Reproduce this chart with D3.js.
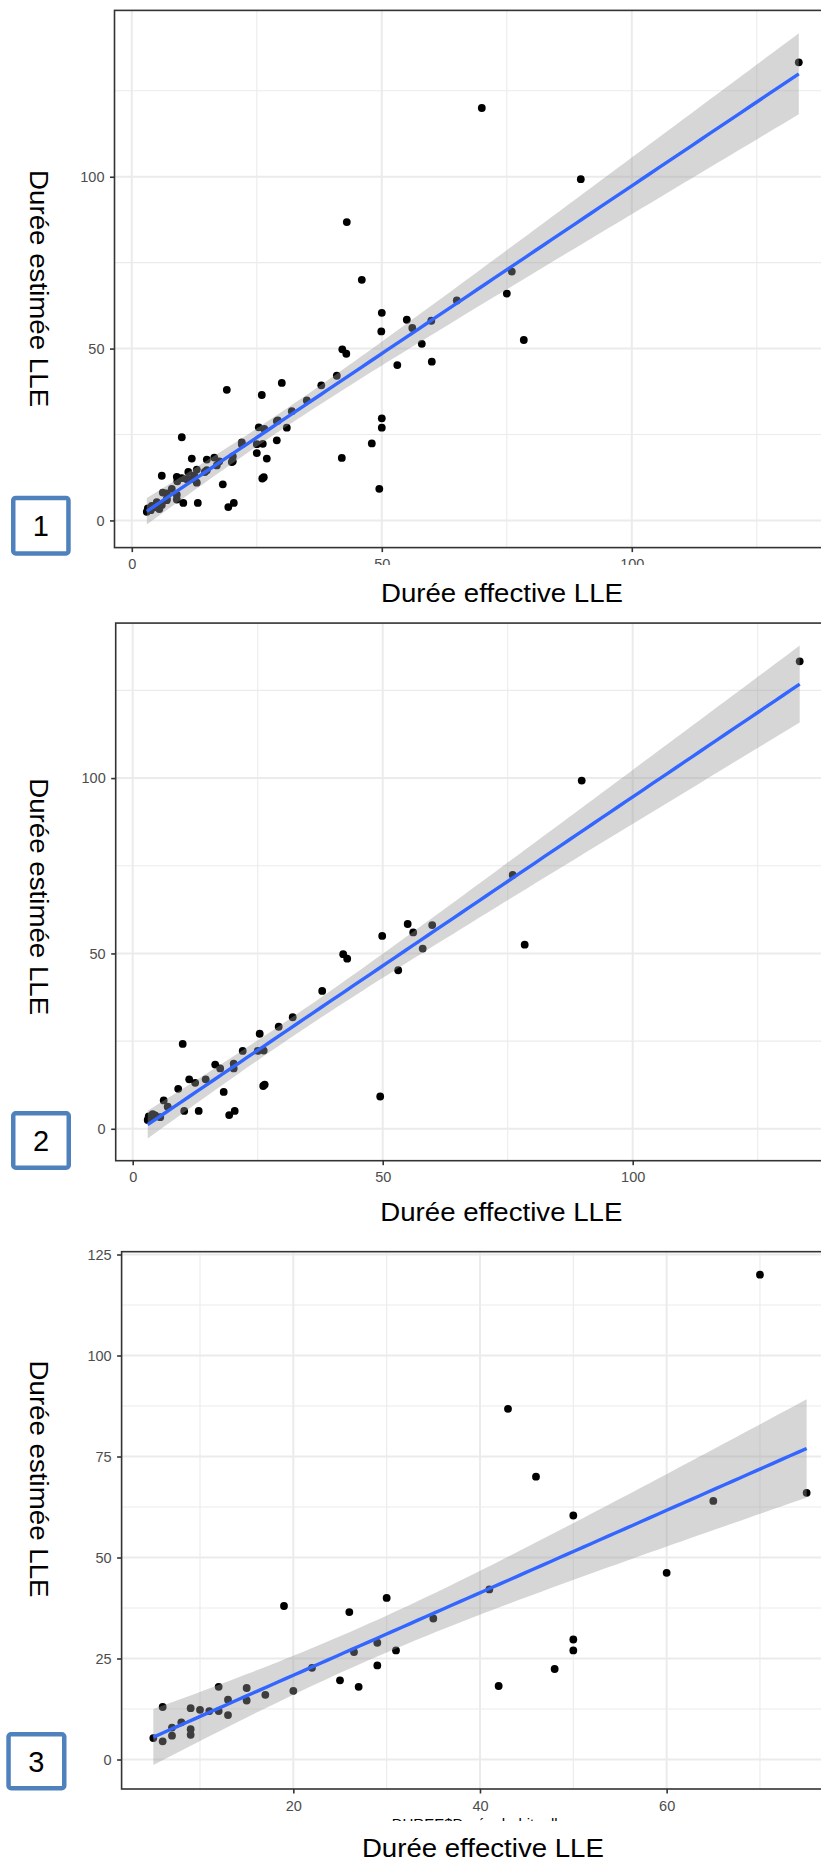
<!DOCTYPE html>
<html><head><meta charset="utf-8">
<script src="https://cdn.jsdelivr.net/npm/d3@7"></script>
<style>body{margin:0;background:#fff}svg{display:block}</style>
</head><body>
<svg id="c" width="821" height="1863"></svg>
<script>
// ---------- data ----------
// group A : points shown in panel 2
const groupAx = [3, 3.2, 3.8, 4, 4.5, 5.5, 6.2, 7, 9.1, 10, 10.3, 11.3, 12.5, 13.2, 14.6, 16.5, 17.5, 18.2, 19.3, 20.4, 20.2, 20.2, 22, 25.4, 25, 26.2, 26.1, 26.4, 29.2, 32, 37.9, 42.1, 42.9, 49.5, 49.9, 53.1, 55, 56.1, 58, 59.9, 76, 78.4, 89.8, 133.4];
const groupAy = [2.5, 3.5, 3.0, 4.2, 3.8, 3.3, 8.1, 6.3, 11.4, 24.2, 5.1, 14.1, 13.1, 5.1, 14.1, 18.3, 17.2, 10.5, 3.9, 5.1, 18.6, 17.2, 22.2, 27.1, 22.2, 22.3, 12.2, 12.6, 29.1, 31.8, 39.3, 49.8, 48.5, 9.2, 55, 45.2, 58.4, 56, 51.4, 58.1, 72.4, 52.5, 99.3, 133.3];
// group B : points shown in panel 3
const groupBx = [5, 6, 6, 7, 7, 8, 9, 9, 9, 10, 11, 12, 12, 13, 13, 15, 15, 17, 19, 20, 22, 25, 26, 26.5, 27, 29, 29, 30, 31, 35, 41, 42, 43, 46, 48, 50, 50, 50, 60, 65, 70, 75];
const groupBy = [5.3, 13, 4.5, 7.9, 5.9, 9.2, 12.7, 7.5, 6.1, 12.3, 12, 18, 12, 14.8, 11, 17.7, 14.6, 16, 38, 17, 22.7, 19.6, 36.5, 26.6, 18, 28.9, 23.3, 40, 27, 34.9, 42.1, 18.2, 86.8, 70, 22.4, 60.4, 29.7, 27, 46.2, 64, 120, 66];

const ticksMajor12 = [0, 50, 100];
const ticksMinor12 = [25, 75, 125];
const ticksMajor3x = [20, 40, 60];
const ticksMinor3x = [10, 30, 50, 70];
const ticksMajor3y = [0, 25, 50, 75, 100, 125];
const ticksMinor3y = [12.5, 37.5, 62.5, 87.5, 112.5];

const xTitle = "Durée effective LLE";
const yTitle = "Durée estimée LLE";
const hiddenTitle = "DUREE$Durée_habituelle";
const panelLabels = ["1", "2", "3"];

// ---------- helpers ----------
const svg = d3.select("#c");
const FONT = "'Liberation Sans', Arial, Helvetica, sans-serif";

function tQuant(df) {
  const z = 1.959964;
  return z + (z ** 3 + z) / (4 * df) + (5 * z ** 5 + 16 * z ** 3 + 3 * z) / (96 * df * df)
    + (3 * z ** 7 + 19 * z ** 5 + 17 * z ** 3 - 15 * z) / (384 * df ** 3);
}

function lmFit(xs, ys) {
  const n = xs.length;
  const mx = d3.mean(xs), my = d3.mean(ys);
  let sxx = 0, sxy = 0;
  for (let i = 0; i < n; i++) { sxx += (xs[i] - mx) ** 2; sxy += (xs[i] - mx) * (ys[i] - my); }
  const b = sxy / sxx, a = my - b * mx;
  let sse = 0;
  for (let i = 0; i < n; i++) sse += (ys[i] - a - b * xs[i]) ** 2;
  const s = Math.sqrt(sse / (n - 2));
  const t = tQuant(n - 2);
  const [x0, x1] = d3.extent(xs);
  const grid = d3.range(80).map(i => x0 + (x1 - x0) * i / 79);
  return grid.map(x => {
    const f = a + b * x;
    const se = s * Math.sqrt(1 / n + (x - mx) ** 2 / sxx);
    return { x, f, lo: f - t * se, hi: f + t * se };
  });
}

function drawPanel(cfg, idx) {
  const g = svg.append("g");
  const x = d3.scaleLinear().domain(cfg.xDomain).range(cfg.xRange);
  const y = d3.scaleLinear().domain(cfg.yDomain).range(cfg.yRange);
  const L = cfg.xRange[0], R = cfg.xRange[1], T = cfg.yRange[1], B = cfg.yRange[0];
  const clipId = "clip" + idx;
  g.append("clipPath").attr("id", clipId).append("rect")
    .attr("x", L).attr("y", T).attr("width", R - L).attr("height", B - T);
  const body = g.append("g").attr("clip-path", `url(#${clipId})`);
  // grid
  body.selectAll(".gxm").data(cfg.xMinor).join("line")
    .attr("x1", d => x(d)).attr("x2", d => x(d)).attr("y1", T).attr("y2", B)
    .attr("stroke", "#EBEBEB").attr("stroke-width", 1.1);
  body.selectAll(".gym").data(cfg.yMinor).join("line")
    .attr("y1", d => y(d)).attr("y2", d => y(d)).attr("x1", L).attr("x2", R)
    .attr("stroke", "#EBEBEB").attr("stroke-width", 1.1);
  body.selectAll(".gxM").data(cfg.xMajor).join("line")
    .attr("x1", d => x(d)).attr("x2", d => x(d)).attr("y1", T).attr("y2", B)
    .attr("stroke", "#EBEBEB").attr("stroke-width", 2);
  body.selectAll(".gyM").data(cfg.yMajor).join("line")
    .attr("y1", d => y(d)).attr("y2", d => y(d)).attr("x1", L).attr("x2", R)
    .attr("stroke", "#EBEBEB").attr("stroke-width", 2);
  // points
  body.selectAll("circle").data(d3.zip(cfg.xs, cfg.ys)).join("circle")
    .attr("cx", d => x(d[0])).attr("cy", d => y(d[1])).attr("r", 3.9).attr("fill", "#000");
  // smooth
  const fit = lmFit(cfg.xs, cfg.ys);
  body.append("path").datum(fit)
    .attr("d", d3.area().x(d => x(d.x)).y0(d => y(d.lo)).y1(d => y(d.hi)))
    .attr("fill", "#999999").attr("fill-opacity", 0.4);
  body.append("path").datum(fit)
    .attr("d", d3.line().x(d => x(d.x)).y(d => y(d.f)))
    .attr("fill", "none").attr("stroke", "#3366FF").attr("stroke-width", 3.4);
  // border
  g.append("rect").attr("x", L).attr("y", T).attr("width", R - L).attr("height", B - T)
    .attr("fill", "none").attr("stroke", "#333333").attr("stroke-width", 1.6);
  // axes
  const ax = g.append("g").attr("transform", `translate(0,${B})`)
    .call(d3.axisBottom(x).tickValues(cfg.xMajor).tickSize(4.5).tickSizeOuter(0).tickPadding(7).tickFormat(d3.format("d")));
  const ay = g.append("g").attr("transform", `translate(${L},0)`)
    .call(d3.axisLeft(y).tickValues(cfg.yMajor).tickSize(4.5).tickSizeOuter(0).tickPadding(5.5).tickFormat(d3.format("d")));
  [ax, ay].forEach(a => {
    a.select(".domain").remove();
    a.selectAll(".tick line").attr("stroke", "#333333").attr("stroke-width", 1.6);
    a.selectAll(".tick text").attr("fill", "#4D4D4D").style("font-family", FONT).style("font-size", "14.5px");
  });
  // hidden original title (panel 3)
  if (cfg.hidden) {
    g.append("text").attr("x", cfg.hidden.x).attr("y", cfg.hidden.y)
      .style("font-family", FONT).style("font-size", "15px").attr("fill", "#000").text(hiddenTitle);
  }
  // cover rect
  if (cfg.cover) {
    g.append("rect").attr("x", cfg.cover[0]).attr("y", cfg.cover[1])
      .attr("width", cfg.cover[2]).attr("height", cfg.cover[3]).attr("fill", "#fff");
  }
  // titles
  g.append("text").attr("x", cfg.xTitle[0]).attr("y", cfg.xTitle[1])
    .attr("text-anchor", "middle").style("font-family", FONT).style("font-size", "26.5px")
    .attr("textLength", 242).attr("lengthAdjust", "spacingAndGlyphs").attr("fill", "#000").text(xTitle);
  g.append("text").attr("transform", `translate(${cfg.yTitle[0]},${cfg.yTitle[1]}) rotate(90)`)
    .attr("text-anchor", "middle").style("font-family", FONT).style("font-size", "26.5px")
    .attr("textLength", 237).attr("lengthAdjust", "spacingAndGlyphs").attr("fill", "#000").text(yTitle);
  // label box
  const bx = cfg.box, sw = 4.5;
  g.append("rect").attr("x", bx[0] + sw / 2).attr("y", bx[1] + sw / 2)
    .attr("width", bx[2] - bx[0] - sw).attr("height", bx[3] - bx[1] - sw).attr("rx", 2.5)
    .attr("fill", "#fff").attr("stroke", "#4F81BD").attr("stroke-width", sw);
  g.append("text").attr("x", (bx[0] + bx[2]) / 2).attr("y", (bx[1] + bx[3]) / 2 + 10.4)
    .attr("text-anchor", "middle").style("font-family", FONT).style("font-size", "29px")
    .attr("fill", "#000").text(panelLabels[idx]);
}

const allX = groupAx.concat(groupBx);
const allY = groupAy.concat(groupBy);

const panels = [
  { xs: allX, ys: allY,
    xDomain: [-3.46, 139.9], xRange: [114.5, 114.5 + 143.36 * 5.0],
    yDomain: [-7.9, 148.4], yRange: [547.6, 547.6 - 156.3 * 3.437],
    xMajor: ticksMajor12, xMinor: ticksMinor12, yMajor: ticksMajor12, yMinor: ticksMinor12,
    cover: [250, 565, 571, 48], xTitle: [502, 601.7], yTitle: [29.5, 288.6],
    box: [11, 495.7, 70.7, 555.7] },
  { xs: groupAx, ys: groupAy,
    xDomain: [-3.4, 139.9], xRange: [115.7, 115.7 + 143.3 * 5.0],
    yDomain: [-9.1, 144.2], yRange: [1160.7, 1160.7 - 153.3 * 3.507],
    xMajor: ticksMajor12, xMinor: ticksMinor12, yMajor: ticksMajor12, yMinor: ticksMinor12,
    cover: null, xTitle: [501.3, 1221], yTitle: [29.5, 896.7],
    box: [11, 1111, 71, 1170] },
  { xs: groupBx, ys: groupBy,
    xDomain: [1.6, 78.6], xRange: [121.6, 121.6 + 77 * 9.333],
    yDomain: [-7.3, 125.7], yRange: [1789, 1789 - 133 * 4.04],
    xMajor: ticksMajor3x, xMinor: ticksMinor3x, yMajor: ticksMajor3y, yMinor: ticksMinor3y,
    hidden: { x: 391.7, y: 1829 }, cover: [300, 1821, 521, 42], xTitle: [482.9, 1857], yTitle: [29.5, 1479],
    box: [6.3, 1732, 66.5, 1790.4] }
];
panels.forEach((p, i) => drawPanel(p, i));
</script>
</body></html>
